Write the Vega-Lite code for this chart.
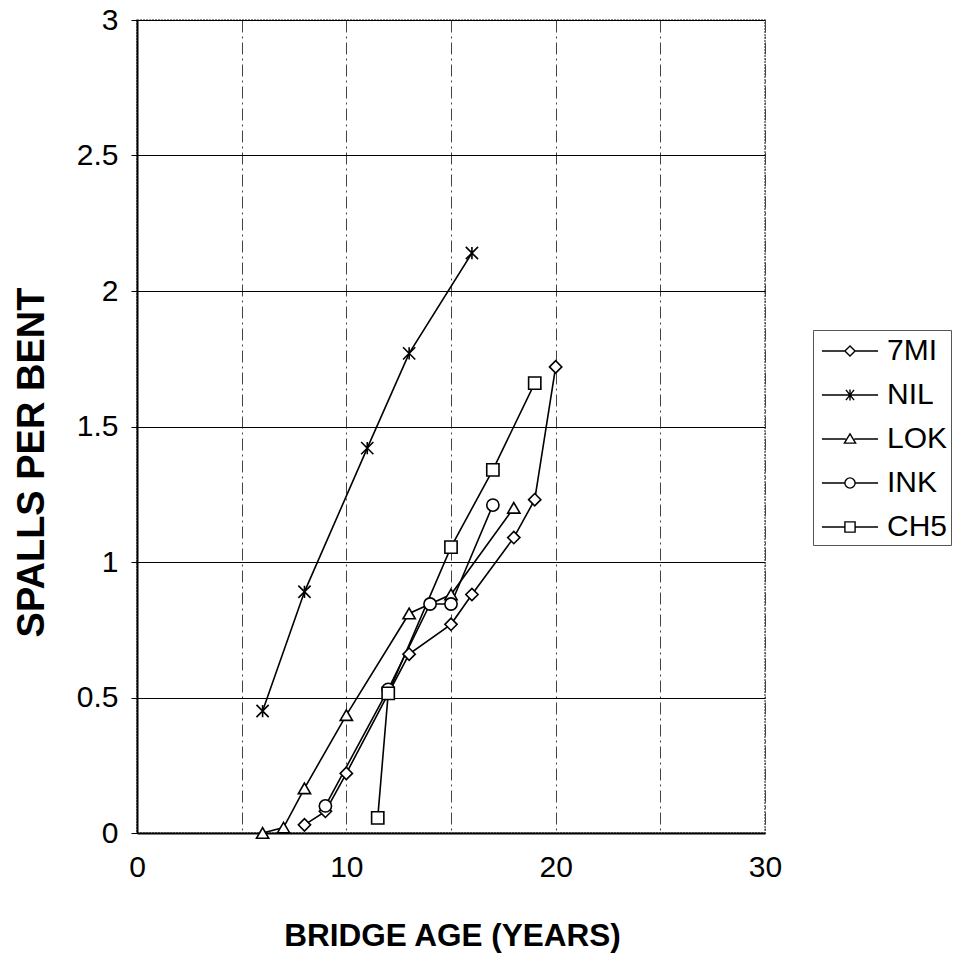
{
  "$schema": "https://vega.github.io/schema/vega-lite/v6.json",
  "width": 628,
  "height": 813,
  "autosize": {"type": "none"},
  "padding": {"left": 137, "top": 20, "right": 200, "bottom": 124},
  "background": "white",
  "config": {
    "font": "Liberation Sans",
    "view": {"stroke": "#666", "strokeWidth": 1.5, "strokeDash": [2, 1]}
  },
  "datasets": {
    "pts": [
      {"series": "7MI", "age": 8, "spalls": 0.03},
      {"series": "7MI", "age": 9, "spalls": 0.08},
      {"series": "7MI", "age": 10, "spalls": 0.22},
      {"series": "7MI", "age": 13, "spalls": 0.66},
      {"series": "7MI", "age": 15, "spalls": 0.77},
      {"series": "7MI", "age": 16, "spalls": 0.88},
      {"series": "7MI", "age": 18, "spalls": 1.09},
      {"series": "7MI", "age": 19, "spalls": 1.23},
      {"series": "7MI", "age": 20, "spalls": 1.72},
      {"series": "NIL", "age": 6, "spalls": 0.45},
      {"series": "NIL", "age": 8, "spalls": 0.89},
      {"series": "NIL", "age": 11, "spalls": 1.42},
      {"series": "NIL", "age": 13, "spalls": 1.77},
      {"series": "NIL", "age": 16, "spalls": 2.14},
      {"series": "LOK", "age": 6, "spalls": 0.0},
      {"series": "LOK", "age": 7, "spalls": 0.02},
      {"series": "LOK", "age": 8, "spalls": 0.165},
      {"series": "LOK", "age": 10, "spalls": 0.435},
      {"series": "LOK", "age": 13, "spalls": 0.81},
      {"series": "LOK", "age": 15, "spalls": 0.88},
      {"series": "LOK", "age": 18, "spalls": 1.2},
      {"series": "INK", "age": 9, "spalls": 0.1},
      {"series": "INK", "age": 12, "spalls": 0.53},
      {"series": "INK", "age": 14, "spalls": 0.845},
      {"series": "INK", "age": 15, "spalls": 0.845},
      {"series": "INK", "age": 17, "spalls": 1.21},
      {"series": "CH5", "age": 11.5, "spalls": 0.056},
      {"series": "CH5", "age": 12, "spalls": 0.515},
      {"series": "CH5", "age": 15, "spalls": 1.055},
      {"series": "CH5", "age": 17, "spalls": 1.34},
      {"series": "CH5", "age": 19, "spalls": 1.66}
    ]
  },
  "data": {"name": "pts"},
  "encoding": {
    "x": {
      "field": "age", "type": "quantitative",
      "scale": {"domain": [0, 30], "nice": false},
      "axis": {
        "title": "BRIDGE AGE (YEARS)",
        "values": [0, 5, 10, 15, 20, 25, 30],
        "labelExpr": "datum.value % 10 === 0 ? datum.label : ''",
        "labelFlush": false,
        "grid": true, "gridColor": "#444", "gridDash": [12, 4, 2, 4], "gridWidth": 1,
        "domainColor": "black", "domainWidth": 2,
        "ticks": false,
        "labelFontSize": 30, "labelColor": "black", "labelPadding": 19,
        "titleFontSize": 31.5, "titleFontWeight": "bold", "titleColor": "black",
        "titleBaseline": "alphabetic", "titleY": 112, "titleX": 315
      }
    },
    "y": {
      "field": "spalls", "type": "quantitative",
      "scale": {"domain": [0, 3], "nice": false},
      "axis": {
        "title": "SPALLS PER BENT",
        "values": [0, 0.5, 1, 1.5, 2, 2.5, 3],
        "format": "~g",
        "grid": true, "gridColor": "black", "gridWidth": 1,
        "domainColor": "black", "domainWidth": 2,
        "tickColor": "black", "tickSize": 6,
        "labelFontSize": 30, "labelColor": "black", "labelPadding": 13,
        "titleFontSize": 38, "titleFontWeight": "bold", "titleColor": "black",
        "titleBaseline": "alphabetic", "titleX": -94, "titleY": 442, "titleAngle": 270
      }
    }
  },
  "layer": [
    {
      "mark": {"type": "line", "color": "black", "strokeWidth": 1.6},
      "encoding": {"detail": {"field": "series"}}
    },
    {
      "mark": {"type": "point", "filled": true, "fill": "white", "stroke": "black", "strokeWidth": 1.6, "size": 150, "opacity": 1},
      "encoding": {
        "shape": {
          "field": "series", "type": "nominal",
          "scale": {
            "domain": ["7MI", "NIL", "LOK", "INK", "CH5"],
            "range": ["diamond", "M-1,-1L1,1M-1,1L1,-1M0,-1V1", "triangle-up", "circle", "square"]
          },
          "legend": null
        }
      }
    },
    {
      "mark": {"type": "point", "shape": "circle", "filled": false, "color": "black", "strokeWidth": 1.4, "size": 1156, "opacity": 0},
      "encoding": {
        "shape": {
          "field": "series", "type": "nominal",
          "scale": {
            "domain": ["7MI", "NIL", "LOK", "INK", "CH5"],
            "range": [
              "M-1.65,0H-0.3M0.3,0H1.65M0,-0.3L0.3,0L0,0.3L-0.3,0Z",
              "M-1.65,0H1.65M-0.24,-0.3L0.24,0.3M-0.24,0.3L0.24,-0.3M0,-0.33V0.33",
              "M-1.65,0H-0.25M0.25,0H1.65M0,-0.3L0.33,0.24L-0.33,0.24Z",
              "M-1.65,0H-0.3M0.3,0H1.65M-0.3,0A0.3,0.3,0,1,0,0.3,0A0.3,0.3,0,1,0,-0.3,0Z",
              "M-1.65,0H-0.3M0.3,0H1.65M-0.3,-0.3H0.3V0.3H-0.3Z"
            ]
          },
          "legend": {
            "title": null,
            "orient": "none",
            "legendX": 676,
            "legendY": 310,
            "padding": 3,
            "symbolOffset": 16,
            "strokeColor": "#555",
            "labelFontSize": 30,
            "labelColor": "black",
            "labelOffset": 19,
            "rowPadding": 11,
            "symbolSize": 1156,
            "symbolOpacity": 1,
            "symbolStrokeColor": "black",
            "symbolFillColor": "white",
            "symbolStrokeWidth": 1.4
          }
        }
      }
    }
  ],
  "resolve": {"scale": {"shape": "independent"}}
}
